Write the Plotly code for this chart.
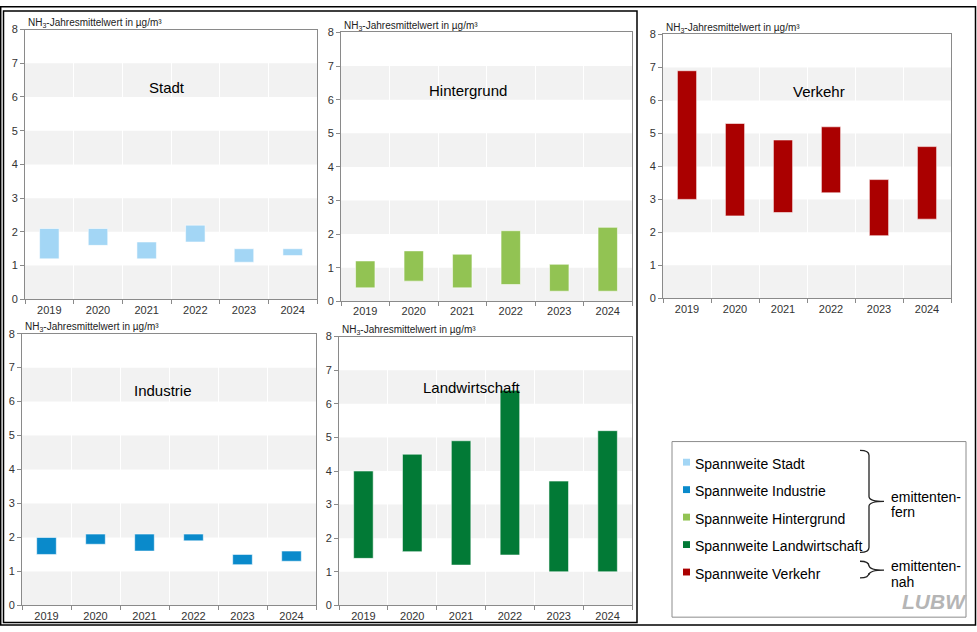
import plotly.graph_objects as go

W, H = 977, 632

years = ["2019", "2020", "2021", "2022", "2023", "2024"]

stadt_min = [1.2, 1.6, 1.2, 1.7, 1.1, 1.3]
stadt_max = [2.1, 2.1, 1.7, 2.2, 1.5, 1.5]

hintergrund_min = [0.4, 0.6, 0.4, 0.5, 0.3, 0.3]
hintergrund_max = [1.2, 1.5, 1.4, 2.1, 1.1, 2.2]

verkehr_min = [3.0, 2.5, 2.6, 3.2, 1.9, 2.4]
verkehr_max = [6.9, 5.3, 4.8, 5.2, 3.6, 4.6]

industrie_min = [1.5, 1.8, 1.6, 1.9, 1.2, 1.3]
industrie_max = [2.0, 2.1, 2.1, 2.1, 1.5, 1.6]

landwirtschaft_min = [1.4, 1.6, 1.2, 1.5, 1.0, 1.0]
landwirtschaft_max = [4.0, 4.5, 4.9, 6.4, 3.7, 5.2]

panel_titles = ["Stadt", "Hintergrund", "Verkehr", "Industrie", "Landwirtschaft"]
legend_labels = ["Spannweite Stadt", "Spannweite Industrie", "Spannweite Hintergrund",
                 "Spannweite Landwirtschaft", "Spannweite Verkehr"]

c_stadt = "#a3d6f5"
c_ind = "#0a8acb"
c_hint = "#92c353"
c_land = "#027a36"
c_verk = "#aa0000"

def px(x):
    return x / W

def py(y):
    return 1 - y / H

panels = [
    dict(mn=stadt_min, mx=stadt_max, col=c_stadt, l=25, r=317, t=24, b=299, tx=0.486, ty=6.28),
    dict(mn=hintergrund_min, mx=hintergrund_max, col=c_hint, l=341, r=632, t=27, b=301, tx=0.436, ty=6.28),
    dict(mn=verkehr_min, mx=verkehr_max, col=c_verk, l=663, r=951, t=29, b=298, tx=0.54, ty=6.27),
    dict(mn=industrie_min, mx=industrie_max, col=c_ind, l=22, r=316, t=334, b=611, tx=0.48, ty=6.33),
    dict(mn=landwirtschaft_min, mx=landwirtschaft_max, col=c_land, l=339, r=632, t=337, b=611, tx=0.454, ty=6.5),
]

fig = go.Figure()
shapes = []
annotations = []
FONT = "Liberation Sans, Arial, sans-serif"

for i, p in enumerate(panels):
    n = i + 1
    xa = "x" if n == 1 else f"x{n}"
    ya = "y" if n == 1 else f"y{n}"
    heights = [hi - lo for lo, hi in zip(p["mn"], p["mx"])]
    fig.add_trace(go.Bar(
        x=years, y=heights, base=p["mn"], xaxis=xa, yaxis=ya,
        marker=dict(color=p["col"], line=dict(color="rgba(255,255,255,0.55)", width=1)),
        width=0.4, showlegend=False, hoverinfo="skip",
    ))
    axis_common = dict(showline=True, linecolor="#8a8a8a", linewidth=1, mirror=True)
    fig.layout[f"xaxis{'' if n == 1 else n}"] = dict(
        domain=[px(p["l"]), px(p["r"])], anchor=ya, type="category",
        tickson="boundaries", ticks="outside", ticklen=4, tickcolor="#8a8a8a",
        showgrid=True, gridcolor="white", gridwidth=1,
        tickfont=dict(size=11, color="#333333", family=FONT), **axis_common,
    )
    fig.layout[f"yaxis{'' if n == 1 else n}"] = dict(
        domain=[py(p["b"]), py(p["t"])], anchor=xa, range=[0, 8], dtick=1,
        ticks="outside", ticklen=4, tickcolor="#8a8a8a", showgrid=False, zeroline=False,
        tickfont=dict(size=11, color="#333333", family=FONT), **axis_common,
    )
    for y0 in [0, 2, 4, 6]:
        shapes.append(dict(type="rect", xref=f"{xa} domain", yref=ya, x0=0, x1=1, y0=y0, y1=y0 + 1,
                           fillcolor="#f2f2f2", line=dict(width=0), layer="below"))
    annotations.append(dict(text=panel_titles[i], xref=f"{xa} domain", yref=ya, x=p["tx"], y=p["ty"],
                            showarrow=False, font=dict(size=15, color="black", family=FONT)))
    annotations.append(dict(text="NH<sub>3</sub>-Jahresmittelwert in µg/m³", xref="paper", yref="paper",
                            x=px(p["l"] + 1), y=py(p["t"] - 7), xanchor="left", yanchor="middle",
                            showarrow=False, font=dict(size=10, color="#222222", family=FONT)))

shapes.append(dict(type="rect", xref="paper", yref="paper", x0=px(0.7), x1=px(975.5), y0=py(631), y1=py(0.7),
                   line=dict(color="black", width=1.5)))
shapes.append(dict(type="rect", xref="paper", yref="paper", x0=px(3.5), x1=px(637), y0=py(628.5), y1=py(5),
                   line=dict(color="black", width=1.5)))
shapes.append(dict(type="rect", xref="paper", yref="paper", x0=px(672), x1=px(966), y0=py(623), y1=py(444),
                   line=dict(color="#8c8c8c", width=1)))

leg_cols = [c_stadt, c_ind, c_hint, c_land, c_verk]
leg_y = [465, 493, 521, 549, 577]
for lab, col, yy in zip(legend_labels, leg_cols, leg_y):
    shapes.append(dict(type="rect", xref="paper", yref="paper", x0=px(683), x1=px(690), y0=py(yy + 3.5), y1=py(yy - 3.5),
                       fillcolor=col, line=dict(width=0)))
    annotations.append(dict(text=lab, xref="paper", yref="paper", x=px(693), y=py(yy + 1.5), xanchor="left",
                            yanchor="middle", showarrow=False, font=dict(size=14, color="black", family=FONT)))

def brace(top, bot, mid, xl=860, xv=869, xp=884):
    pts = [
        f"M {px(xl)},{py(top)}",
        f"Q {px(xv)},{py(top)} {px(xv)},{py(top + 5)}",
        f"L {px(xv)},{py(mid - 5)}",
        f"Q {px(xv)},{py(mid)} {px(xp)},{py(mid)}",
        f"Q {px(xv)},{py(mid)} {px(xv)},{py(mid + 5)}",
        f"L {px(xv)},{py(bot - 5)}",
        f"Q {px(xv)},{py(bot)} {px(xl)},{py(bot)}",
    ]
    return dict(type="path", xref="paper", yref="paper", path=" ".join(pts),
                line=dict(color="#222222", width=1.3))

shapes.append(brace(453, 557, 505))
shapes.append(brace(566, 583, 575))

for txt, yy in [("emittenten-", 500), ("fern", 516), ("emittenten-", 571), ("nah", 587)]:
    annotations.append(dict(text=txt, xref="paper", yref="paper", x=px(889), y=py(yy), xanchor="left",
                            yanchor="middle", showarrow=False, font=dict(size=14, color="black", family=FONT)))

annotations.append(dict(text="<b><i>LUBW</i></b>", xref="paper", yref="paper", x=px(934), y=py(607),
                        xanchor="center", yanchor="middle", showarrow=False,
                        font=dict(size=21, color="#b5b5b5", family=FONT)))

fig.update_layout(
    width=W, height=H, margin=dict(l=0, r=0, t=0, b=0),
    paper_bgcolor="white", plot_bgcolor="white",
    shapes=shapes, annotations=annotations, barmode="overlay",
    font=dict(family=FONT),
)

fig.write_html("out.html", config={"displayModeBar": False},
               post_script="document.body.style.margin='0';document.body.style.overflow='hidden';")
